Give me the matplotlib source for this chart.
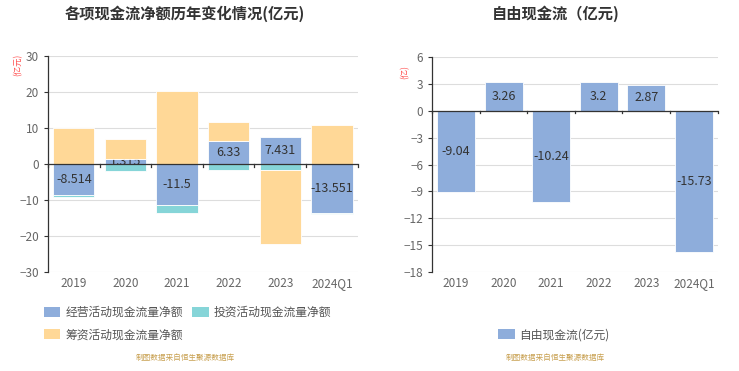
import matplotlib
matplotlib.use("Agg")
import matplotlib.pyplot as plt
from matplotlib.patches import Patch
import numpy as np

plt.rcParams['font.family'] = ['Noto Sans CJK SC', 'DejaVu Sans']

years = ['2019', '2020', '2021', '2022', '2023', '2024Q1']
operating = [-8.514, 1.315, -11.5, 6.33, 7.431, -13.551]
investing = [-0.6, -2.0, -2.0, -1.6, -1.7, -0.3]
financing = [10.0, 5.6, 20.3, 5.4, -20.6, 10.7]
fcf = [-9.04, 3.26, -10.24, 3.2, 2.87, -15.73]

C_OP = '#8eaddb'
C_INV = '#86d5d8'
C_FIN = '#ffd897'
TXT = '#666666'

fig = plt.figure(figsize=(7.39, 3.71), dpi=100)
ax1 = fig.add_axes([0.065, 0.267, 0.419, 0.582])
ax2 = fig.add_axes([0.585, 0.267, 0.386, 0.579])

x = np.arange(len(years))
w = 0.8


def style_axis(ax, lo, hi, step):
    ax.set_xlim(-0.5, len(years) - 0.5)
    ax.set_ylim(lo, hi)
    ax.set_yticks(np.arange(lo, hi + step / 2, step))
    ax.grid(axis='y', color='#dddddd', linewidth=0.8, zorder=0)
    ax.set_axisbelow(True)
    for s in ['top', 'right', 'bottom']:
        ax.spines[s].set_visible(False)
    ax.spines['left'].set_color('#333333')
    ax.spines['left'].set_linewidth(0.9)
    ax.tick_params(axis='y', colors=TXT, labelsize=8.5, length=3, color='#333333')
    ax.set_xticks(x)
    ax.set_xticklabels(years)
    ax.tick_params(axis='x', colors=TXT, labelsize=8.5, length=0, pad=4)
    # zero line with ticks at category boundaries
    ax.axhline(0, color='#333333', linewidth=0.9, zorder=4)
    span = hi - lo
    for b in np.arange(-0.5, len(years) + 0.5, 1.0):
        ax.plot([b, b], [0, -span * 0.012], color='#333333', linewidth=0.9, zorder=4, clip_on=False)


# stacked bars, positive and negative stacked separately
pos_base = np.zeros(len(years))
neg_base = np.zeros(len(years))
for vals, col, z in [(operating, C_OP, 2), (investing, C_INV, 2), (financing, C_FIN, 3)]:
    vals = np.array(vals)
    base = np.where(vals >= 0, pos_base, neg_base)
    ax1.bar(x, vals, w, bottom=base, color=col, edgecolor='white', linewidth=0.6, zorder=z)
    if col == C_OP:
        for i, v in enumerate(vals):
            ax1.text(x[i], base[i] + v / 2, f'{v:g}', ha='center', va='center',
                     fontsize=9, color='#333333', zorder=2.5)
    pos_base = pos_base + np.where(vals >= 0, vals, 0)
    neg_base = neg_base + np.where(vals < 0, vals, 0)

style_axis(ax1, -30, 30, 10)

ax2.bar(x, fcf, w, color=C_OP, edgecolor='white', linewidth=0.6, zorder=3)
for i, v in enumerate(fcf):
    ax2.text(x[i], v / 2, f'{v:g}', ha='center', va='center', fontsize=9, color='#333333', zorder=5)
style_axis(ax2, -18, 6, 3)

fig.text(0.25, 0.962, '各项现金流净额历年变化情况(亿元)', ha='center', va='center',
         fontsize=11, fontweight='bold', color='#333333')
fig.text(0.752, 0.962, '自由现金流（亿元)', ha='center', va='center',
         fontsize=11, fontweight='bold', color='#333333')
fig.text(0.024, 0.825, '(亿元)', rotation=90, ha='center', va='center', fontsize=6, color='#ff4d4d')
fig.text(0.548, 0.805, '(亿)', rotation=90, ha='center', va='center', fontsize=6, color='#ff4d4d')

h_op = Patch(facecolor=C_OP, edgecolor='none')
h_inv = Patch(facecolor=C_INV, edgecolor='none')
h_fin = Patch(facecolor=C_FIN, edgecolor='none')
leg_kw = dict(frameon=False, fontsize=8.5, handlelength=1.4, handleheight=1.0,
              handletextpad=0.4, labelcolor='#555555')
fig.legend([h_op, h_inv], ['经营活动现金流量净额', '投资活动现金流量净额'], ncol=2,
           loc='center left', bbox_to_anchor=(0.045, 0.158), columnspacing=0.8, **leg_kw)
fig.legend([h_fin], ['筹资活动现金流量净额'], loc='center left',
           bbox_to_anchor=(0.045, 0.098), **leg_kw)
fig.legend([h_op], ['自由现金流(亿元)'], loc='center left',
           bbox_to_anchor=(0.66, 0.098), **leg_kw)

fig.text(0.25, 0.035, '制图数据来自恒生聚源数据库', ha='center', va='center', fontsize=5.5, color='#c8a050')
fig.text(0.752, 0.035, '制图数据来自恒生聚源数据库', ha='center', va='center', fontsize=5.5, color='#c8a050')

fig.savefig('out.png', dpi=100)
